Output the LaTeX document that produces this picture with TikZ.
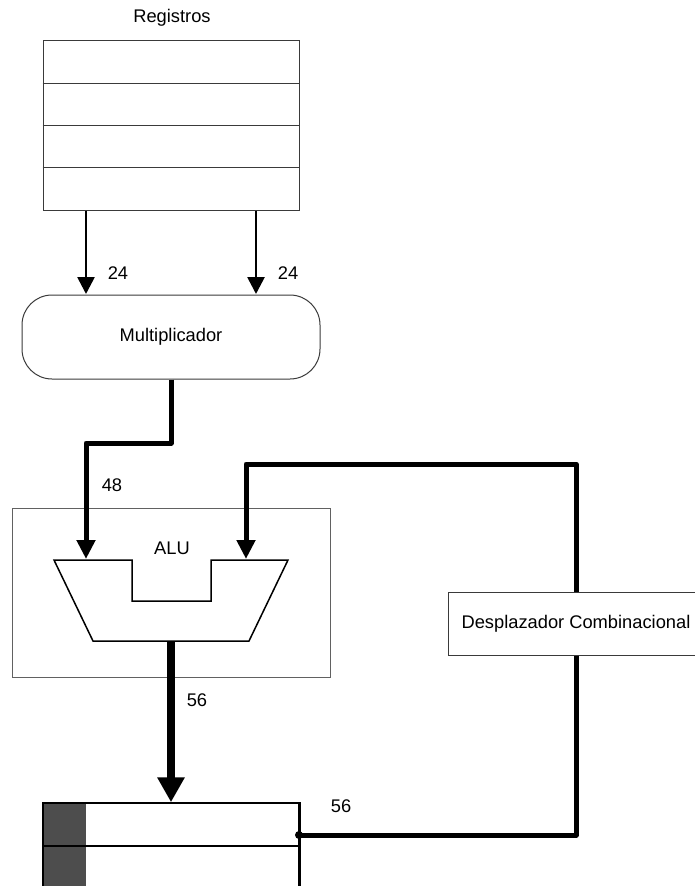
\documentclass[tikz,border=0pt]{standalone}
\usepackage{fontspec}
\setmainfont{Liberation Sans}
\usetikzlibrary{arrows.meta,calc}
\definecolor{frame}{HTML}{3A3A3A}
\definecolor{cellgray}{HTML}{4D4D4D}
\begin{document}
\begin{tikzpicture}[x=1pt,y=-1pt,
  every node/.style={font=\fontsize{18.3}{22}\selectfont, inner sep=0pt},
  box/.style={draw=frame, line width=1pt, fill=white},
  wire/.style={line width=2.7pt, -{Triangle[length=17pt,width=17pt]}},
  bus/.style={line width=5pt, line join=round},
  busarrow/.style={bus, -{Triangle[length=19pt,width=18pt]}},
  widebus/.style={line width=8pt, -{Triangle[length=25pt,width=26pt]}}]
\useasboundingbox (0,0) rectangle (695,886);

% register file
\node (title) at (172,18) {Registros};
\node[box, minimum width=256pt, minimum height=170pt] (regs) at (171,125) {};
\foreach \yy in {83,125,167}
  \draw[frame, line width=1pt] (regs.west |- 0,\yy) -- (regs.east |- 0,\yy);

% multiplier
\node[box, rounded corners=30pt, minimum width=298pt, minimum height=84pt] (mult) at (171,337) {Multiplicador};

\coordinate (m1) at (86,294);
\coordinate (m2) at (256,294);
\draw[wire] (regs.south -| m1) -- (m1);
\draw[wire] (regs.south -| m2) -- (m2);
\node (l24a) at (118,273) {24};
\node (l24b) at (288,273) {24};

% ALU
\node[box, draw=frame!80, minimum width=318pt, minimum height=169pt] (alubox) at (171,592.5) {};
\node (alulabel) at (172,548) {ALU};
\draw[line width=1.5pt, line join=miter]
  (54,560) -- (132,560) -- (132,601) -- (211,601) -- (211,560) -- (288,560)
  -- (249,641) -- (93,641) -- cycle;
\coordinate (aluinL) at (86,559);
\coordinate (aluinR) at (246,559);
\coordinate (aluout) at (171,641);

\draw[busarrow] (mult.south) -- (171,443) -| (aluinL);
\node (l48) at (112,485) {48};

% shifter
\node[box, minimum width=256pt, minimum height=63pt] (desp) at (576,623.5) {Desplazador Combinacional};
\draw[busarrow] (desp.north) |- (aluinR |- 0,464) -- (aluinR);

% accumulator
\node[draw=black, line width=1.5pt, fill=white, minimum width=256pt, minimum height=140pt] (acc) at (171,873) {};
\fill[cellgray] (43.75,803.75) rectangle (86,943);
\draw[line width=1.5pt] (acc.west |- 0,846) -- (acc.east |- 0,846);
\draw[line width=1.5pt] (acc.north west) rectangle (acc.south east);

\draw[widebus] (aluout) -- (acc.north);
\node (l56a) at (197,700) {56};

\coordinate (acctap) at (299,835);
\draw[bus] (desp.south) |- (acctap);
\fill (acctap) circle (4pt);
\node (l56b) at (341,806) {56};
\end{tikzpicture}
\end{document}
